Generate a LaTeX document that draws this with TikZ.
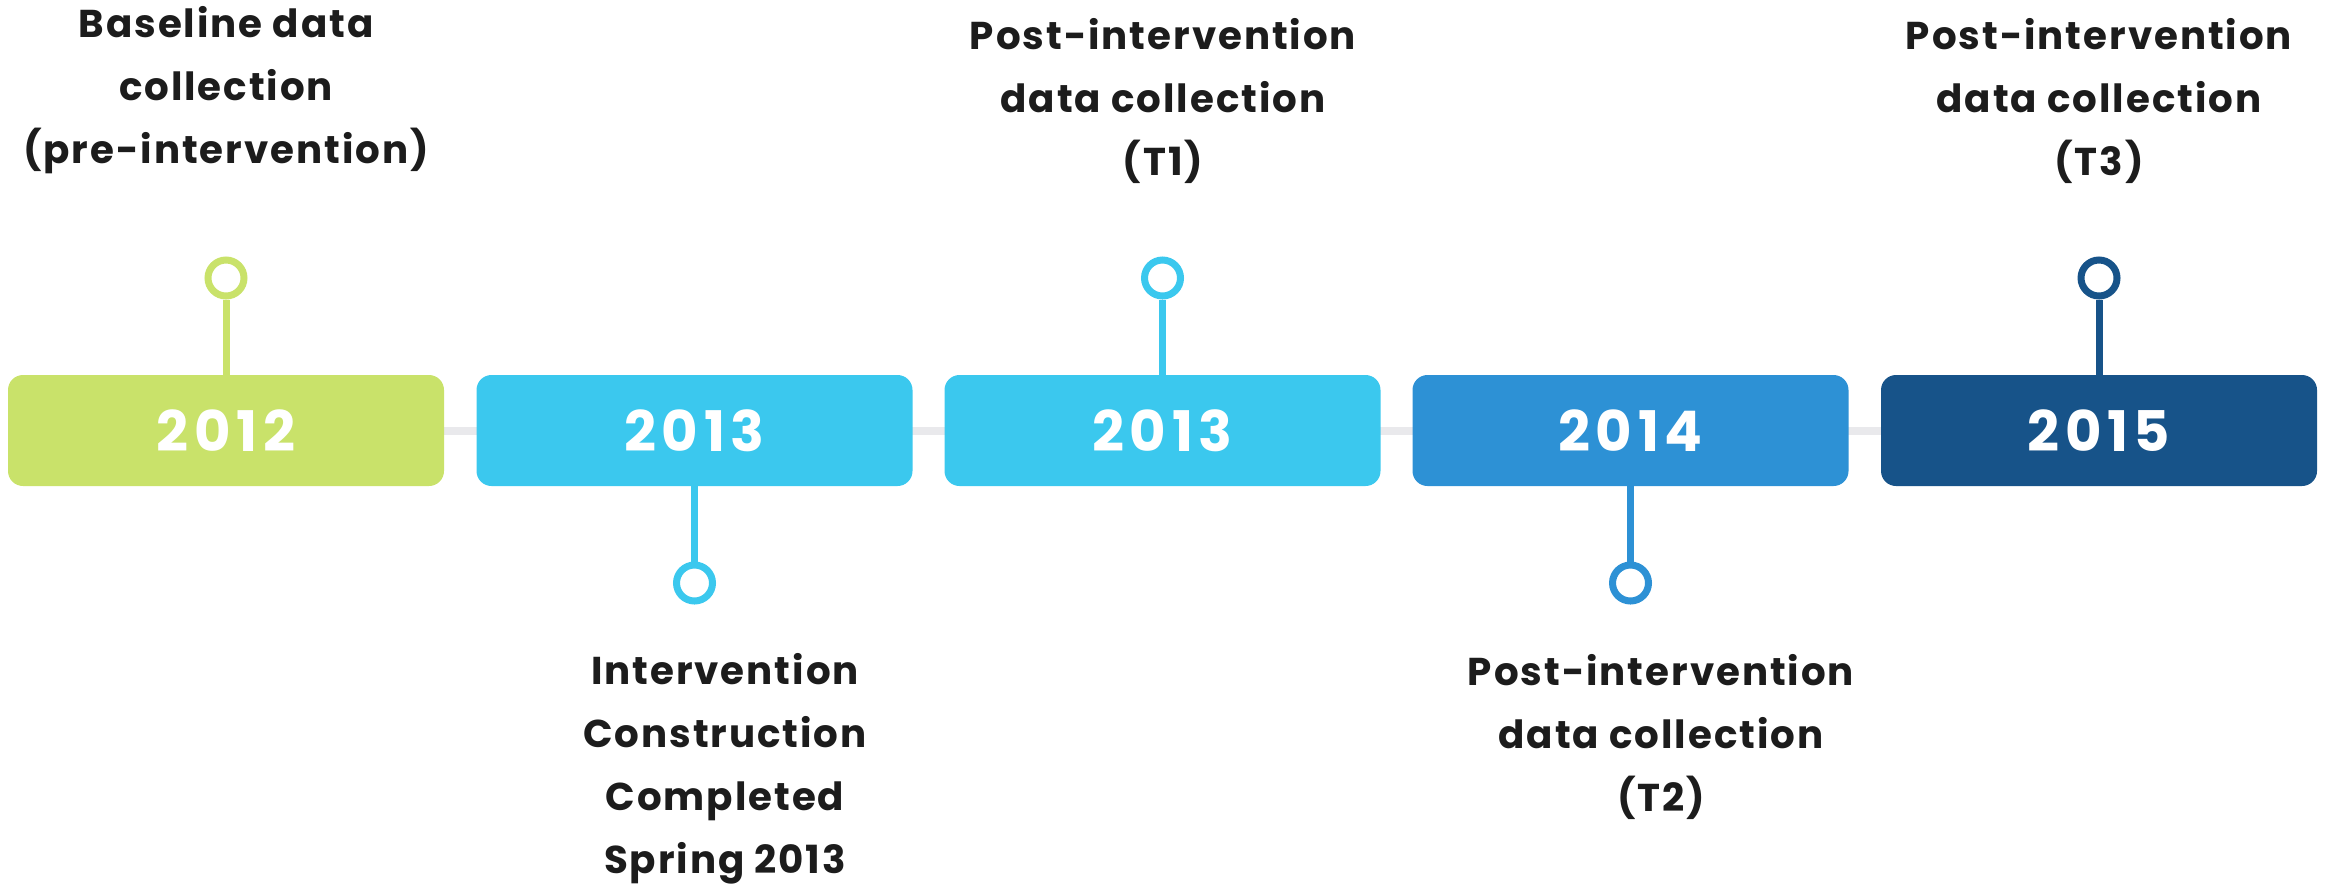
\documentclass[tikz,border=0pt]{standalone}
\usepackage{fontspec}
\setmainfont{Poppins}
\newfontfamily\labelfont[LetterSpace=5]{Poppins}
\newfontfamily\yearfont[LetterSpace=10]{Poppins}
\usetikzlibrary{backgrounds}

\definecolor{cgreen}{HTML}{C9E26A}
\definecolor{ccyan}{HTML}{3BC8EE}
\definecolor{cblue}{HTML}{2D91D5}
\definecolor{cdark}{HTML}{175389}
\definecolor{ctext}{HTML}{1C1C1C}
\definecolor{cgrey}{HTML}{E9E9EC}

\tikzset{
  yearbox/.style={fill=#1, rounded corners=7.5pt, minimum width=218pt,
    minimum height=55.5pt, inner sep=0pt, text=white,
    font=\yearfont\bfseries\fontsize{28}{28}\selectfont},
  ring/.style={circle, draw=#1, fill=white, line width=3.5pt, inner sep=0pt,
    minimum size=18pt},
  stem/.style={draw=#1, line width=3.5pt},
  caption/.style={align=center, anchor=base, text=ctext,
    font=\labelfont\bfseries\fontsize{19.4}{31.5}\selectfont}
}

\begin{document}
\begin{tikzpicture}[x=0.5pt, y=-0.5pt]
  \useasboundingbox (0,0) rectangle (2328,885);

  % year boxes
  \node[yearbox=cgreen] (b1) at (226,430.5)    {2012};
  \node[yearbox=ccyan]  (b2) at (694.5,430.5)  {2013};
  \node[yearbox=ccyan]  (b3) at (1162.5,430.5) {2013};
  \node[yearbox=cblue]  (b4) at (1630.5,430.5) {2014};
  \node[yearbox=cdark]  (b5) at (2099,430.5)   {2015};

  % timeline behind the boxes
  \begin{scope}[on background layer]
    \draw[cgrey, line width=4pt] (b1.east) -- (b5.west);
  \end{scope}

  % pins
  \node[ring=cgreen] (p1) at (226,278)    {};
  \node[ring=ccyan]  (p2) at (694.5,583)  {};
  \node[ring=ccyan]  (p3) at (1162.5,278) {};
  \node[ring=cblue]  (p4) at (1630.5,583) {};
  \node[ring=cdark]  (p5) at (2099,278)   {};

  \draw[stem=cgreen] (p1.south) -- (b1.north);
  \draw[stem=ccyan]  (b2.south) -- (p2.north);
  \draw[stem=ccyan]  (p3.south) -- (b3.north);
  \draw[stem=cblue]  (b4.south) -- (p4.north);
  \draw[stem=cdark]  (p5.south) -- (b5.north);

  % captions (anchored at the baseline of their last line)
  \node[caption] (t1) at (226,163)  {Baseline data\\collection\\(pre-intervention)};
  \node[caption] (t2) at (725,873)  {Intervention\\Construction\\Completed\\Spring 2013};
  \node[caption] (t3) at (1163,175) {Post-intervention\\data collection\\(T1)};
  \node[caption] (t4) at (1661,811) {Post-intervention\\data collection\\(T2)};
  \node[caption] (t5) at (2099,175) {Post-intervention\\data collection\\(T3)};
\end{tikzpicture}
\end{document}
